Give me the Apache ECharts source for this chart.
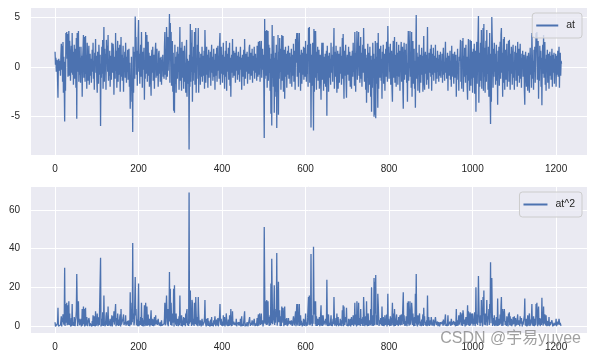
<!DOCTYPE html>
<html><head><meta charset="utf-8">
<script src="https://cdn.jsdelivr.net/npm/echarts@6/dist/echarts.min.js"></script>
<style>html,body{margin:0;padding:0;background:#fff}#c{width:594px;height:360px}</style>
</head><body><div id="c"></div>
<script>
// at series, index 0..1213
const at = [
1.5,0.2,0.9,-0.5,0.4,0.7,-1.3,-3.1,0.5,0.8,-0.4,0.2,0.6,-0.9,1.2,2.3,-0.3,2.1,-1.5,2.5,
-2.6,1.0,-1.8,-5.5,0.5,-2.4,3.4,1.4,3.5,0.8,3.3,-1.0,2.0,3.6,-0.9,2.6,1.1,-1.4,0.3,2.1,
-0.6,3.4,-0.8,1.5,-1.8,0.6,2.2,-1.2,0.4,1.8,-2.1,2.9,-5.2,3.4,-0.5,1.3,3.6,-1.5,2.0,-0.8,
0.9,-1.6,2.0,-0.3,1.1,-3.0,0.7,1.7,3.2,-1.1,3.0,0.2,-1.5,3.1,-0.7,1.2,-2.2,2.4,0.5,-1.4,
1.0,2.1,-1.8,0.4,1.3,-0.9,0.8,-1.6,0.3,1.7,-0.5,2.4,-1.2,0.6,-2.3,1.4,0.2,2.8,-0.6,1.1,
-1.3,-2.6,1.5,0.4,-1.7,2.2,0.9,-0.8,1.2,-5.95,0.3,-1.1,2.0,-0.7,2.7,-2.2,0.6,4.0,-1.5,1.8,
-0.4,1.3,-2.3,2.7,0.8,2.1,-0.5,3.2,-1.4,0.7,-0.9,1.6,-2.0,0.5,1.1,-1.3,2.4,0.2,-0.6,2.3,
1.5,-2.8,1.0,0.3,-1.2,3.4,-0.4,1.6,-2.1,0.8,2.6,-1.5,0.6,1.9,-0.8,2.2,-2.5,0.3,3.0,-1.0,
1.2,-1.4,0.5,2.1,-2.5,0.9,-0.2,1.5,-1.1,2.4,0.7,-1.6,1.0,-0.5,1.7,-1.3,0.6,1.8,-2.0,0.4,
-4.2,-1.0,-2.2,1.0,-3.5,-1.5,-6.55,2.0,-2.6,0.8,1.5,-1.2,5.05,2.4,3.0,-0.8,1.6,-1.9,0.5,3.0,
4.7,-0.5,1.3,-1.7,0.9,2.2,-1.0,3.5,0.6,-2.1,1.5,-0.3,0.8,1.9,-3.3,0.4,-1.2,3.5,2.0,-0.7,
3.2,-1.5,0.7,2.5,-0.9,1.4,-2.0,0.3,1.1,-1.2,-2.9,0.9,1.7,-0.6,2.0,-1.4,0.5,1.2,-2.2,0.8,
1.0,2.4,-1.1,0.6,1.8,-0.9,0.3,-2.0,1.3,1.6,-0.7,0.9,-1.5,0.4,1.0,-1.8,0.7,-0.4,1.2,-1.0,
0.5,-1.2,2.0,3.5,-0.8,1.6,-1.3,4.0,2.6,-1.0,3.0,-0.4,1.8,2.2,5.3,-1.6,4.4,0.9,3.5,-1.9,
0.7,2.6,-2.5,1.4,-4.4,0.3,-4.6,2.2,-1.7,1.0,-2.6,0.6,1.5,-1.2,2.0,-0.5,1.3,-2.3,0.8,4.0,
-1.4,1.9,-0.6,-2.4,2.5,0.2,-1.1,1.6,-2.2,0.9,2.1,-1.5,0.4,-2.6,1.3,2.7,-3.0,0.8,1.0,-1.7,
0.6,-8.3,1.2,-2.0,4.3,-1.5,2.4,-0.5,3.7,-3.5,1.0,-1.4,2.0,-0.6,3.5,-1.8,1.1,3.9,-2.6,0.8,
-1.2,2.2,0.4,3.9,-2.6,1.5,-0.7,0.9,-1.8,1.3,0.2,-1.0,2.0,-1.5,0.7,1.1,-0.9,1.6,-2.2,3.7,
1.4,-1.6,0.3,2.0,-0.8,1.2,-2.1,0.6,1.7,-1.1,0.9,-0.3,1.5,-1.9,0.5,2.2,-0.6,1.0,-1.4,0.2,
1.8,-1.0,0.7,-2.3,1.3,0.4,-0.9,1.9,-1.5,0.8,2.1,-0.4,1.1,-1.2,2.3,3.4,-1.8,0.9,2.0,-0.7,
1.2,-1.6,0.5,2.4,-0.8,1.0,-2.2,0.3,1.6,-1.0,2.6,-2.4,0.7,1.3,-0.5,1.9,-1.3,0.6,2.4,-1.9,
0.9,-3.0,0.4,1.2,-0.6,2.8,-1.1,0.5,1.6,-0.9,0.3,1.4,-1.6,0.8,2.0,-0.4,1.1,-1.3,0.6,1.5,
-0.8,1.0,-1.5,0.7,2.0,-0.3,0.9,-2.3,0.4,1.2,-1.0,0.6,1.7,-1.9,2.8,0.3,-1.2,1.3,-0.5,0.8,
1.5,-1.7,0.4,1.0,-0.7,1.9,2.2,-1.3,0.6,1.4,-0.9,0.2,1.8,-1.6,0.7,1.1,-0.4,2.0,-1.2,0.5,
1.3,-0.6,0.9,-1.4,2.1,0.4,-1.0,2.5,0.7,-0.8,2.6,-1.5,0.9,1.6,2.6,-1.1,0.5,1.8,-0.3,1.2,
-1.6,-7.15,4.8,-1.2,3.6,2.4,-0.9,3.7,-2.1,1.0,3.6,-1.4,2.2,-0.6,1.9,-2.4,0.8,-4.7,1.3,-5.9,
4.2,-1.1,1.6,-2.0,3.1,-4.6,0.9,-2.5,1.4,-3.0,2.2,-6.15,0.7,-1.8,3.2,-4.8,1.5,-1.2,2.9,-0.5,
1.8,-2.3,0.6,3.2,-1.4,1.1,3.1,-2.5,0.4,1.7,-3.2,0.9,2.0,-1.0,1.3,-2.1,0.5,1.6,-0.8,2.1,
-1.2,0.7,1.4,-1.7,1.0,0.3,1.8,-2.0,0.6,1.2,-0.9,2.3,-1.5,0.8,1.6,-2.3,2.8,0.4,2.6,3.4,
-1.0,3.4,0.7,-2.0,1.5,3.4,-0.6,1.2,-2.4,0.9,1.7,-1.7,0.3,1.4,-0.8,2.0,-1.3,0.6,1.9,-1.0,
2.6,0.4,-1.5,1.3,-0.7,2.2,-2.0,3.9,1.0,4.0,-1.6,0.8,2.3,-6.1,1.2,-1.9,0.5,2.4,-1.2,-6.4,
3.8,-2.5,3.6,-1.1,3.6,0.6,-2.3,1.5,-0.6,2.0,-1.4,0.9,1.7,-2.2,0.4,1.2,-1.0,-3.3,0.7,2.4,
-1.3,0.6,2.4,-2.4,1.0,0.3,-1.7,1.3,-2.0,0.8,1.6,-4.9,2.1,-0.5,1.1,-2.5,0.6,1.4,-1.1,0.8,
-1.8,2.4,-0.6,1.2,0.5,-1.5,2.0,1.1,3.9,-2.2,0.7,1.5,-1.0,2.1,-0.4,-2.6,0.9,1.6,-2.2,0.4,
1.3,-1.6,0.8,2.0,-0.7,1.1,-1.8,0.5,2.9,-1.2,3.3,-0.4,-3.2,1.6,-0.9,1.0,2.2,-1.5,-3.1,0.6,
1.2,-0.8,0.4,2.0,-1.4,0.7,1.5,-2.0,0.3,1.1,-2.2,0.9,1.6,-1.0,2.4,-0.5,0.8,-1.9,3.5,1.0,
-2.5,1.4,0.2,3.6,-1.3,0.8,1.7,3.5,-0.9,2.1,-1.6,0.5,3.0,-1.2,1.4,-2.0,0.7,2.2,-0.6,3.9,
3.8,-1.5,0.4,1.8,-2.3,0.9,-3.6,1.2,-0.4,2.3,-2.6,0.6,1.4,-1.8,2.0,-0.8,-3.0,1.1,-4.5,0.7,
-2.1,2.4,-0.6,1.3,-5.0,0.8,-4.8,2.6,-5.15,1.0,-1.7,2.4,-0.9,-4.1,3.4,-2.2,0.6,1.8,-1.1,0.5,
2.1,-1.4,0.8,-3.2,1.5,-0.6,2.2,-1.7,0.4,1.3,-2.4,0.9,1.8,-1.0,2.5,0.3,-1.5,4.1,0.9,2.0,
-1.2,1.4,-0.5,2.3,-1.8,0.7,1.6,-2.2,-3.5,0.8,2.6,-1.1,0.4,3.0,-1.6,0.6,1.2,-2.0,2.5,-0.9,
1.4,-1.8,0.5,2.2,-1.0,1.6,-2.4,0.8,1.3,2.5,-1.5,0.9,2.0,-2.2,-4.2,1.1,2.4,-1.3,0.6,1.7,
-0.8,2.3,-1.6,0.4,-3.5,1.2,3.6,-1.4,0.7,2.0,3.6,-1.0,1.5,-2.1,3.5,-3.0,0.9,2.6,-1.7,0.5,
1.8,-2.2,0.6,-4.1,1.3,5.2,-1.2,1.4,0.3,-2.4,1.0,-0.5,2.2,-2.6,0.7,1.2,-1.6,0.4,1.9,-0.8,
1.1,-2.5,0.6,3.1,-1.4,-2.3,0.9,1.5,-0.7,1.2,-1.8,0.4,4.0,-1.3,0.8,-2.2,1.4,-0.6,0.5,1.8,
-1.0,2.2,-2.4,0.7,1.3,-0.8,1.9,-1.4,0.5,1.1,-0.6,2.2,-1.7,0.9,0.3,-1.2,1.6,-0.5,0.8,-1.5,
1.2,0.4,-0.9,1.5,-1.1,0.6,-0.4,1.3,-1.6,0.7,1.9,-0.8,0.5,-1.4,1.0,2.5,-0.6,0.9,-1.2,0.4,
1.4,-2.4,0.7,1.1,-0.9,0.3,1.6,-1.3,0.6,-2.0,2.1,-1.0,0.8,1.3,-0.5,-1.7,0.9,1.5,-1.1,0.4,
1.2,-3.0,0.6,-1.3,1.8,-0.7,0.4,-2.4,1.0,0.6,1.4,2.7,-1.5,0.8,-2.2,2.6,0.5,2.9,-2.5,1.1,
-1.0,1.9,0.3,-1.6,2.2,-0.8,1.0,-2.0,-3.3,0.9,2.8,-1.4,0.6,-2.4,2.7,0.8,-1.9,2.6,-1.2,1.5,
-2.6,0.7,1.8,-1.1,2.3,-2.7,0.5,1.6,-4.5,1.2,2.5,-1.7,0.9,3.0,5.1,-3.6,1.4,-2.0,0.6,2.4,
-1.4,3.7,-2.2,1.1,0.4,3.9,-2.4,4.3,-1.0,1.9,-2.6,0.8,2.6,-1.5,3.7,-0.7,1.2,-2.3,2.0,-3.0,
0.9,3.4,-2.7,-5.75,1.3,-3.5,5.0,2.9,0.6,-2.1,1.8,-1.0,2.4,-0.5,1.3,-1.8,0.8,2.2,-1.4,0.5,
-3.8,1.6,-0.7,2.0,-1.9,0.9,2.5,-1.2,3.2,3.9,-0.6,1.4,-3.0,0.7,2.8,-1.6,3.0,-2.3,0.9,1.7,
-1.3,0.6,2.3,-2.0,1.1,-0.4,2.6,-1.5,2.7,0.8,-2.3,1.3,-0.7,2.0,0.4,-1.8,1.0,2.2,-1.1,0.5,
-2.3,1.5,0.3,2.1,-1.4,0.8,1.4,-2.0,2.5,-0.9,0.6,1.8,-1.6,0.4,2.3,-1.2,0.9,-2.1,1.3,0.2,
1.6,-1.0,0.5,1.2,-2.4,-3.8,0.8,1.5,-0.6,-2.0,0.3,1.1,-2.4,0.7,1.4,-1.5,-2.6,0.5,1.9,-0.8,
0.9,-2.1,3.4,1.3,-1.2,0.6,-2.3,1.7,-0.5,2.0,-1.6,0.8,3.4,2.2,3.5,-1.3,0.4,2.6,-3.2,1.0,
-1.4,2.1,0.5,1.6,-2.0,0.9,-3.85,1.3,2.2,-0.7,3.2,-1.1,0.6,2.5,-1.8,0.8,-2.4,1.2,-0.5,1.7,
-1.6,0.7,1.3,-2.2,0.4,1.5,-0.9,1.1,-1.3,0.6,1.8,-2.0,0.3,1.2,-0.6,1.4,-1.7,0.8,-0.4,1.3,
-2.0,0.5,1.1,-0.8,1.6,-1.0,0.4,2.0,-2.1,0.9,1.4,-0.9,0.6,0.3
];
// at^2 is the square of each at value (the reference plots at**2)
const atSquared = at.map(v => Math.round(v * v * 1000) / 1000);
const seriesNames = ['at', 'at^2'];
const xTickStep = 200;
const topTickStep = 5;
const bottomTickStep = 20;

const chart = echarts.init(document.getElementById('c'), null, {renderer: 'canvas'});
const FONT = 'Liberation Sans, Arial, sans-serif';
const txt = '#262626';
const blue = '#4C72B0';

function xAxisCfg(gi) {
  return {
    type: 'value', gridIndex: gi, min: -60, max: 1274,
    splitNumber: 7, minInterval: xTickStep, maxInterval: xTickStep,
    axisLine: {show: false}, axisTick: {show: false},
    axisLabel: {color: txt, fontSize: 10, fontFamily: FONT, margin: 9,
      formatter: v => (Math.abs(v % xTickStep) < 1e-9 ? String(v) : '')},
    splitLine: {show: true, lineStyle: {color: '#ffffff', width: 1}}
  };
}
function yAxisCfg(gi, min, max, step, split) {
  return {
    type: 'value', gridIndex: gi, min: min, max: max,
    splitNumber: split, minInterval: step, maxInterval: step,
    axisLine: {show: false}, axisTick: {show: false},
    axisLabel: {color: txt, fontSize: 10, fontFamily: FONT, margin: 10,
      formatter: v => (Math.abs(v % step) < 1e-9 ? String(v) : '')},
    splitLine: {show: true, lineStyle: {color: '#ffffff', width: 1}}
  };
}
function legendCfg(name, top, iconW) {
  return {
    data: [name], right: 12, top: top, orient: 'vertical',
    icon: 'rect', itemWidth: iconW, itemHeight: 2, padding: [7, 7, 7, 4],
    backgroundColor: 'rgba(234,234,242,0.8)', borderColor: '#cccccc',
    borderWidth: 1, borderRadius: 3,
    textStyle: {color: txt, fontSize: 10.5, fontFamily: FONT, padding: [0, 0, 0, 3]}
  };
}

chart.setOption({
  backgroundColor: '#ffffff',
  animation: false,
  grid: [
    {left: 30, right: 7, top: 7, height: 148, show: true, backgroundColor: '#EAEAF2', borderWidth: 0},
    {left: 30, right: 7, top: 186, height: 147, show: true, backgroundColor: '#EAEAF2', borderWidth: 0}
  ],
  xAxis: [xAxisCfg(0), xAxisCfg(1)],
  yAxis: [yAxisCfg(0, -8.85, 6.0, topTickStep, 3), yAxisCfg(1, -3.3, 72.2, bottomTickStep, 4)],
  legend: [legendCfg(seriesNames[0], 13, 22), legendCfg(seriesNames[1], 192, 24)],
  series: [
    {name: seriesNames[0], type: 'line', xAxisIndex: 0, yAxisIndex: 0, symbol: 'none',
     data: at.map((v, i) => [i, v]), lineStyle: {color: blue, width: 1.3}, itemStyle: {color: blue}},
    {name: seriesNames[1], type: 'line', xAxisIndex: 1, yAxisIndex: 1, symbol: 'none',
     data: atSquared.map((v, i) => [i, v]), lineStyle: {color: blue, width: 1.3}, itemStyle: {color: blue}}
  ],
  graphic: [{
    type: 'text', right: 13, top: 331, z: 100,
    style: {text: 'CSDN @宇易yuyee', fill: 'rgba(120,120,120,0.7)',
      font: '16px "Liberation Sans", "Noto Sans CJK SC", sans-serif'}
  }]
});
</script></body></html>
